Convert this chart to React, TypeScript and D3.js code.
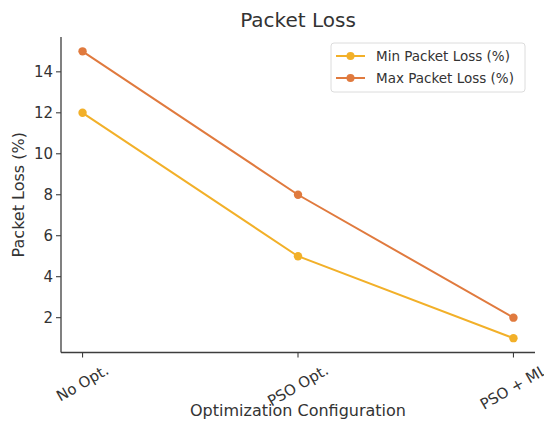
import * as d3 from "d3";
import { useEffect, useRef } from "react";

const categories = ["No Opt.", "PSO Opt.", "PSO + ML"];
const minLoss = [12, 5, 1];
const maxLoss = [15, 8, 2];
const yTicks = [2, 4, 6, 8, 10, 12, 14];

const series = [
  { name: "Min Packet Loss (%)", values: minLoss, color: "#f2b029" },
  { name: "Max Packet Loss (%)", values: maxLoss, color: "#e07a3e" },
];

const W = 544;
const H = 427;
const font = "DejaVu Sans, sans-serif";

const App = () => {
  const svgRef = useRef<SVGSVGElement | null>(null);

  useEffect(() => {
    if (!svgRef.current) return;
    const svg = d3.select(svgRef.current);
    svg.selectAll("*").remove();

    const left = 61;
    const right = 535;
    const top = 37;
    const bottom = 352.5;

    const x = d3
      .scalePoint<string>()
      .domain(categories)
      .range([left, right])
      .padding(0.05 / 1.1 * 2 / 2 * 1.1);
    // matplotlib keeps 5% of the data span on each side
    const span = (right - left) / 1.1;
    x.range([left + span * 0.05, right - span * 0.05]).padding(0);

    const y = d3.scaleLinear().domain([0.3, 15.7]).range([bottom, top]);

    const axisColor = "#3d3d3d";

    // spines
    svg.append("line")
      .attr("x1", left).attr("x2", left)
      .attr("y1", top).attr("y2", bottom)
      .attr("stroke", axisColor).attr("stroke-width", 1.3);
    svg.append("line")
      .attr("x1", left).attr("x2", right)
      .attr("y1", bottom).attr("y2", bottom)
      .attr("stroke", axisColor).attr("stroke-width", 1.3);

    // y ticks
    const yg = svg.append("g");
    yTicks.forEach((t) => {
      yg.append("line")
        .attr("x1", left - 5).attr("x2", left)
        .attr("y1", y(t)).attr("y2", y(t))
        .attr("stroke", axisColor).attr("stroke-width", 1.1);
      yg.append("text")
        .attr("x", left - 8)
        .attr("y", y(t))
        .attr("dy", "0.35em")
        .attr("text-anchor", "end")
        .attr("font-family", font)
        .attr("font-size", 15)
        .attr("fill", "#333")
        .text(t);
    });

    // x ticks
    const xg = svg.append("g");
    categories.forEach((c) => {
      const cx = x(c) ?? 0;
      xg.append("line")
        .attr("x1", cx).attr("x2", cx)
        .attr("y1", bottom).attr("y2", bottom + 5)
        .attr("stroke", axisColor).attr("stroke-width", 1.1);
      const label = xg.append("text")
        .attr("text-anchor", "middle")
        .attr("dominant-baseline", "central")
        .attr("font-family", font)
        .attr("font-size", 15)
        .attr("fill", "#333")
        .text(c);
      const w = (label.node() as SVGTextElement).getComputedTextLength();
      const bh = w * 0.5 + 17 * 0.866;
      label.attr("transform", `translate(${cx},${bottom + 9 + bh / 2}) rotate(-30)`);
    });

    // lines and markers
    const line = d3
      .line<number>()
      .x((_, i) => x(categories[i]) ?? 0)
      .y((d) => y(d));

    series.forEach((s) => {
      svg.append("path")
        .datum(s.values)
        .attr("fill", "none")
        .attr("stroke", s.color)
        .attr("stroke-width", 2)
        .attr("d", line);
      svg.append("g")
        .selectAll("circle")
        .data(s.values)
        .join("circle")
        .attr("cx", (_, i) => x(categories[i]) ?? 0)
        .attr("cy", (d) => y(d))
        .attr("r", 4.2)
        .attr("fill", s.color);
    });

    // title and axis labels
    svg.append("text")
      .attr("x", (left + right) / 2)
      .attr("y", 27)
      .attr("text-anchor", "middle")
      .attr("font-family", font)
      .attr("font-size", 20)
      .attr("fill", "#333")
      .text("Packet Loss");

    svg.append("text")
      .attr("x", (left + right) / 2)
      .attr("y", 416)
      .attr("text-anchor", "middle")
      .attr("font-family", font)
      .attr("font-size", 16)
      .attr("fill", "#333")
      .text("Optimization Configuration");

    svg.append("text")
      .attr("transform", `translate(24,${(top + bottom) / 2}) rotate(-90)`)
      .attr("text-anchor", "middle")
      .attr("font-family", font)
      .attr("font-size", 16)
      .attr("fill", "#333")
      .text("Packet Loss (%)");

    // legend
    const lg = svg.append("g").attr("transform", "translate(331,43)");
    lg.append("rect")
      .attr("width", 194)
      .attr("height", 49)
      .attr("rx", 3)
      .attr("fill", "#fff")
      .attr("fill-opacity", 0.8)
      .attr("stroke", "#dcdcdc");
    series.forEach((s, i) => {
      const ly = 13 + i * 22;
      lg.append("line")
        .attr("x1", 5).attr("x2", 34)
        .attr("y1", ly).attr("y2", ly)
        .attr("stroke", s.color).attr("stroke-width", 2);
      lg.append("circle")
        .attr("cx", 19.5).attr("cy", ly).attr("r", 4)
        .attr("fill", s.color);
      lg.append("text")
        .attr("x", 45)
        .attr("y", ly)
        .attr("dy", "0.35em")
        .attr("font-family", font)
        .attr("font-size", 13.5)
        .attr("fill", "#333")
        .text(s.name);
    });
  }, []);

  return <svg ref={svgRef} width={W} height={H} style={{ display: "block", position: "absolute", left: 0, top: 0 }} />;
};

export default App;
